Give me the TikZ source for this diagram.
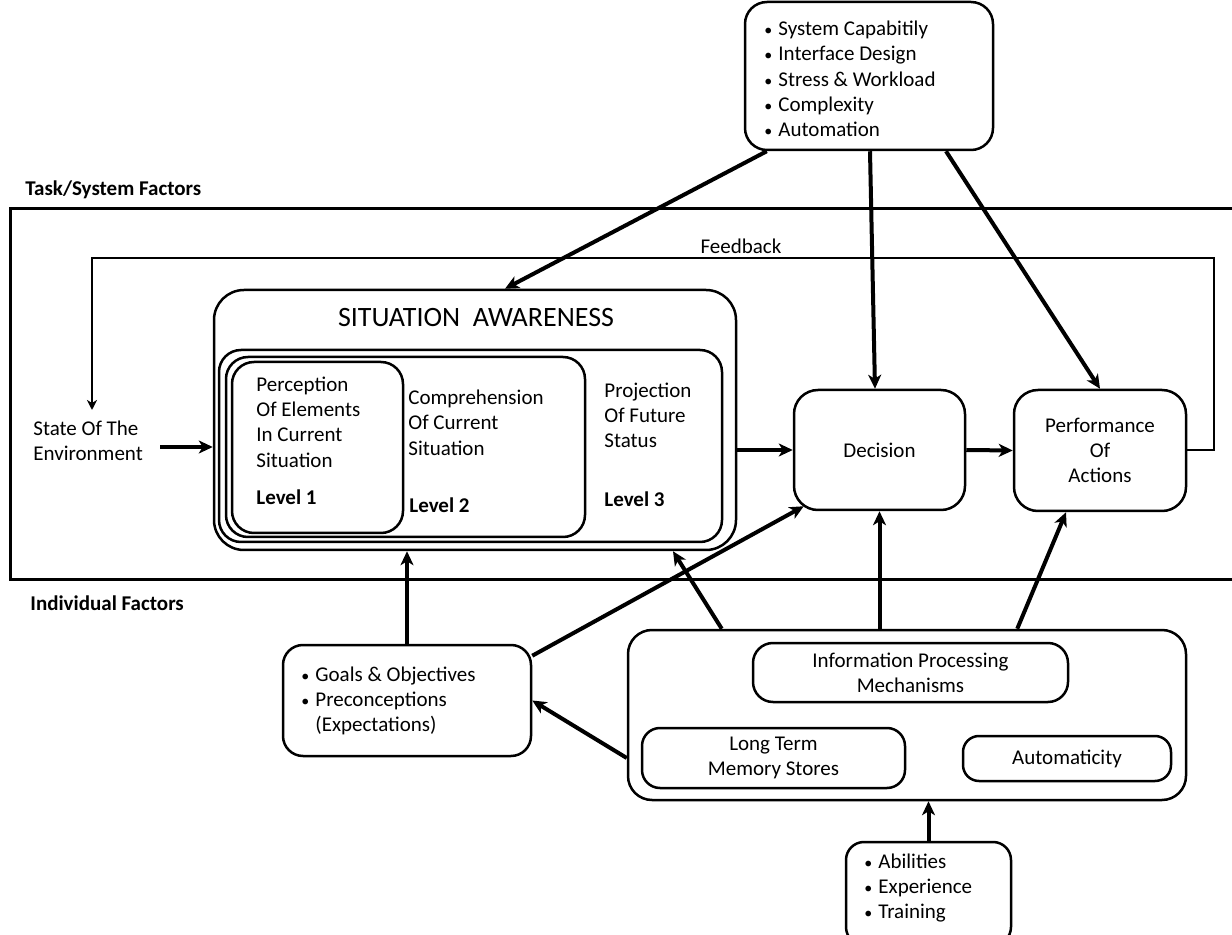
\documentclass[tikz,border=0pt]{standalone}
\usepackage{fontspec}
\setmainfont{Carlito}
\usetikzlibrary{arrows.meta,calc}

\newcommand{\blt}{\makebox[7pt][l]{\fontsize{8}{8}\selectfont\textbullet}}

\tikzset{
  box/.style={draw, line width=1.25pt, rounded corners=10pt, inner sep=0pt, align=center},
  arr/.style={line width=2pt, -{Stealth[length=7pt,width=6.5pt,inset=2pt]}},
  fb/.style={line width=1pt, -{Stealth[length=5pt,width=5pt,inset=1.5pt]}},
  txt/.style={align=left, inner sep=0pt, anchor=west},
  hdr/.style={txt, font=\fontsize{10.5}{12.65}\selectfont\bfseries},
}

\begin{document}
\begin{tikzpicture}[x=0.5pt, y=-0.5pt, font=\fontsize{10.5}{12.65}\selectfont]
  \useasboundingbox (0,0) rectangle (1232,935);
  \draw[line width=1.5pt] (1250,209) -- (10,209) -- (10,579) -- (1250,579);

  \node[hdr] (taskhdr) at (25,190) {Task/System Factors};
  \node[hdr] (indivhdr) at (30,603) {Individual Factors};

  \node[box, rounded corners=11pt, minimum width=124pt, minimum height=74pt] (tsf) at (869,76) {};
  \node[txt] (tsftext) at (764,79)
    {\blt System Capabitily\\ \blt Interface Design\\
     \blt Stress \& Workload\\ \blt Complexity\\ \blt Automation};

  \node[txt] (env) at (33,440.5) {State Of The\\Environment};

  \node[box, rounded corners=15pt, minimum width=261pt, minimum height=130pt] (sa) at (475,420) {};
  \node (satitle) at (476,318) {\fontsize{14}{16}\selectfont SITUATION\ \ AWARENESS};
  \node[box, rounded corners=11pt, minimum width=251.5pt, minimum height=96pt] (l3) at (470.5,446) {};
  \node[box, rounded corners=11pt, minimum width=179.5pt, minimum height=90pt] (l2) at (405.5,447) {};
  \node[box, rounded corners=11pt, minimum width=85.5pt, minimum height=85.5pt] (l1) at (317.5,447.5) {};

  \node[txt] (l1text) at (256,422) {Perception\\Of Elements\\In Current\\Situation};
  \node[hdr] (l1lvl) at (256,497) {Level 1};
  \node[txt] (l2text) at (408,422.5) {Comprehension\\Of Current\\Situation};
  \node[hdr] (l2lvl) at (409,505) {Level 2};
  \node[txt] (l3text) at (604,415.5) {Projection\\Of Future\\Status};
  \node[hdr] (l3lvl) at (604,499) {Level 3};

  \node[box, rounded corners=12pt, minimum width=85.5pt, minimum height=60pt] (decision) at (879.5,450) {Decision};
  \node[box, rounded corners=12pt, minimum width=86pt, minimum height=60.5pt] (perf) at (1100,450.5) {Performance\\Of\\Actions};

  \node[box, minimum width=124pt, minimum height=55.5pt] (goals) at (407,700.5) {};
  \node[txt] (goalstext) at (301,701)
    {\blt Goals \& Objectives\\ \blt Preconceptions\\ \hspace*{7pt}(Expectations)};

  \node[box, rounded corners=12pt, minimum width=279pt, minimum height=85pt] (indiv) at (907,715) {};
  \node[box, minimum width=157.5pt, minimum height=29.5pt] (ipm) at (910.5,672.5) {Information Processing\\Mechanisms};
  \node[box, rounded corners=9pt, minimum width=131.5pt, minimum height=30pt] (ltm) at (773.5,758) {Long Term\\Memory Stores};
  \node[box, rounded corners=8pt, minimum width=104pt, minimum height=22.5pt] (auto) at (1067,758.5) {Automaticity};

  \node[box, rounded corners=9pt, minimum width=82.5pt, minimum height=51.5pt] (abil) at (928.5,893.5) {};
  \node[txt] (abiltext) at (864,888) {\blt Abilities\\ \blt Experience\\ \blt Training};

  \coordinate (envout) at ($(env.east)+(17,6.5)$);
  \draw[arr] (envout) -- (envout -| sa.west);
  \draw[arr] (sa.east |- decision.west) -- (decision.west);
  \draw[arr] (decision.east) -- (perf.west);

  \draw[arr] ([xshift=11.5pt]tsf.south west) -- ([xshift=15pt]sa.north);
  \draw[arr] ([xshift=0.5pt]tsf.south) -- ([xshift=-2.25pt]decision.north);
  \draw[arr] ([xshift=38.5pt]tsf.south) -- (perf.north);

  \draw[arr] (goals.north) -- (goals.north |- sa.south);
  \draw[arr] ([yshift=-6pt]goals.north east) -- ([xshift=5.5pt,yshift=2.5pt]decision.south west);
  \draw[arr] ([xshift=47.5pt]indiv.north west) -- ([xshift=99pt]sa.south);
  \draw[arr] (decision.south |- indiv.north) -- (decision.south);
  \draw[arr] ([xshift=-85pt]indiv.north east) -- ([xshift=-17pt]perf.south);
  \draw[arr] ([yshift=-21.5pt]indiv.west) -- (goals.east);
  \draw[arr] (abil.north) -- (abil.north |- indiv.south);

  \coordinate (fbturn) at (92,258);
  \coordinate (fbend) at (92,410);
  \draw[fb] (perf.east) -- ++(27,0) |- (fbturn) -- (fbend);
  \node (fblabel) at (741,246) {Feedback};
\end{tikzpicture}
\end{document}
